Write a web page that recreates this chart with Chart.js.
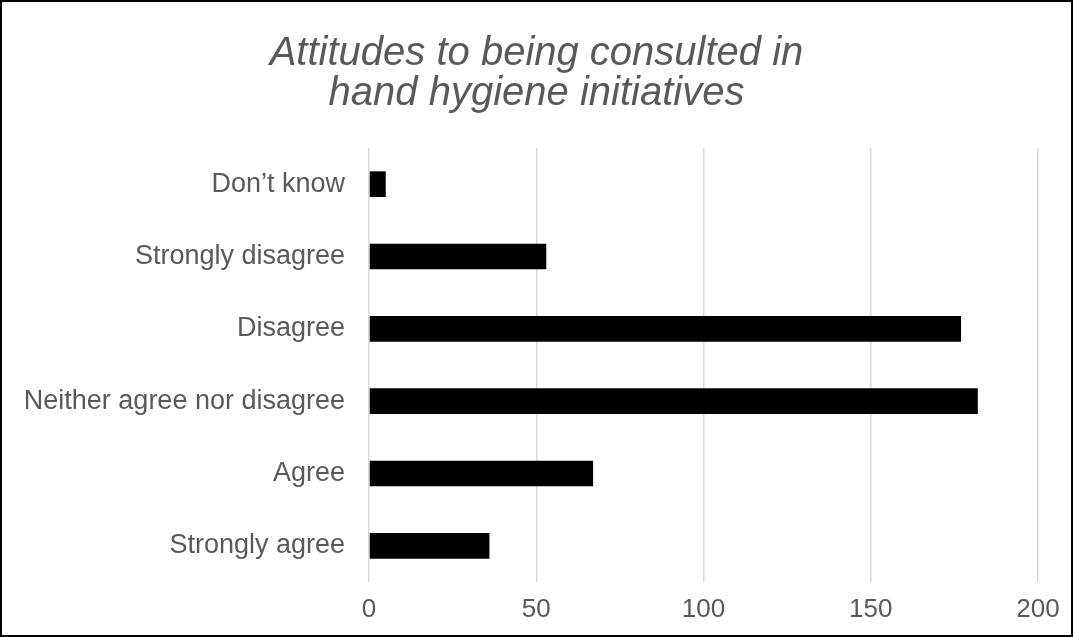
<!DOCTYPE html>
<html>
<head>
<meta charset="utf-8">
<script src="https://cdn.jsdelivr.net/npm/chart.js@4.4.1/dist/chart.umd.min.js"></script>
<style>
  html, body { margin: 0; padding: 0; background: #fff; }
  #wrap { width: 1073px; height: 637px; border: 2px solid #000; box-sizing: border-box; }
  #chart { display: block; }
</style>
</head>
<body>
<div id="wrap"><canvas id="chart" width="1069" height="633"></canvas></div>
<script>
// --- data ---
const categories = ["Don\u2019t know", "Strongly disagree", "Disagree", "Neither agree nor disagree", "Agree", "Strongly agree"];
const responses = [5, 53, 177, 182, 67, 36];
const titleLines = ["Attitudes to being consulted in", "hand hygiene initiatives"];
const xTicks = [0, 50, 100, 150, 200];

const textGrey = "#595959";
const fontFamily = "'Liberation Sans', Arial, sans-serif";

new Chart(document.getElementById("chart"), {
  type: "bar",
  data: {
    labels: categories,
    datasets: [{
      data: responses,
      backgroundColor: "#000",
      borderWidth: 0,
      categoryPercentage: 1,
      barPercentage: 0.355
    }]
  },
  options: {
    indexAxis: "y",
    responsive: false,
    animation: false,
    layout: { padding: 0 },
    plugins: {
      legend: { display: false },
      tooltip: { enabled: false },
      title: {
        display: true,
        text: titleLines,
        color: textGrey,
        font: { family: fontFamily, size: 40, style: "italic", weight: "normal", lineHeight: 1.0 },
        padding: { top: 32, bottom: 34 }
      }
    },
    scales: {
      x: {
        min: 0, max: 200,
        afterBuildTicks: (s) => { s.ticks = xTicks.map(v => ({ value: v })); },
        // keep the plot's right edge where the reference has it, without shifting the title
        afterFit: (s) => { s.height = 53; s.paddingRight = 33; },
        border: { display: false },
        grid: { color: "#d9d9d9", lineWidth: 1.5, drawTicks: false },
        ticks: { color: textGrey, padding: 12, font: { family: fontFamily, size: 26 } }
      },
      y: {
        afterFit: (s) => { s.width = 367; },
        border: { display: false },
        grid: { display: false, drawTicks: false },
        ticks: { color: textGrey, padding: 24, font: { family: fontFamily, size: 27 } }
      }
    }
  }
});
</script>
</body>
</html>
